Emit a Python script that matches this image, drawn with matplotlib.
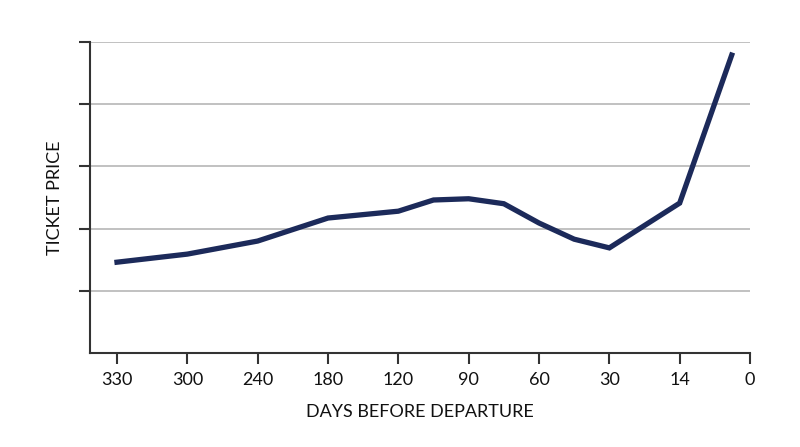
import matplotlib.pyplot as plt

plt.rcParams['font.family'] = ['Lato', 'DejaVu Sans']

day_labels = ['330', '300', '240', '180', '120', '90', '60', '30', '14', '0']
# line points sit on the tick slots, some halfway between them
x_pos = [0, 1, 2, 3, 4, 4.5, 5, 5.5, 6, 6.5, 7, 8, 8.74]
price = [1.46, 1.59, 1.80, 2.17, 2.28, 2.46, 2.48, 2.40, 2.09, 1.83, 1.69, 2.41, 4.79]
grid_levels = [1, 2, 3, 4, 5]

fig = plt.figure(figsize=(8, 4.47), dpi=100)
ax = fig.add_axes([0.1125, 0.2103, 0.825, 0.6957])

ax.plot(x_pos, price, color='#1c2a5a', lw=3.8, solid_joinstyle='miter', zorder=3)

ax.set_xlim(-0.384, 9)
ax.set_ylim(0, 5)
ax.set_xticks(range(len(day_labels)))
ax.set_xticklabels(day_labels, fontsize=13, color='#111111')
ax.set_yticks(grid_levels)
ax.set_yticklabels([])
ax.yaxis.grid(True, color='#b0b0b0', lw=1.1)
ax.set_axisbelow(True)

for s in ['top', 'right']:
    ax.spines[s].set_visible(False)
for s in ['left', 'bottom']:
    ax.spines[s].set_color('#333333')
    ax.spines[s].set_linewidth(1.5)
ax.tick_params(axis='x', length=8, width=1.5, color='#333333', pad=6)
ax.tick_params(axis='y', length=8, width=1.5, color='#333333')

ax.set_xlabel('DAYS BEFORE DEPARTURE', fontsize=13, color='#111111', labelpad=11)
ax.set_ylabel('TICKET PRICE', fontsize=13, color='#111111', labelpad=8)

fig.savefig('out.png', dpi=100)
